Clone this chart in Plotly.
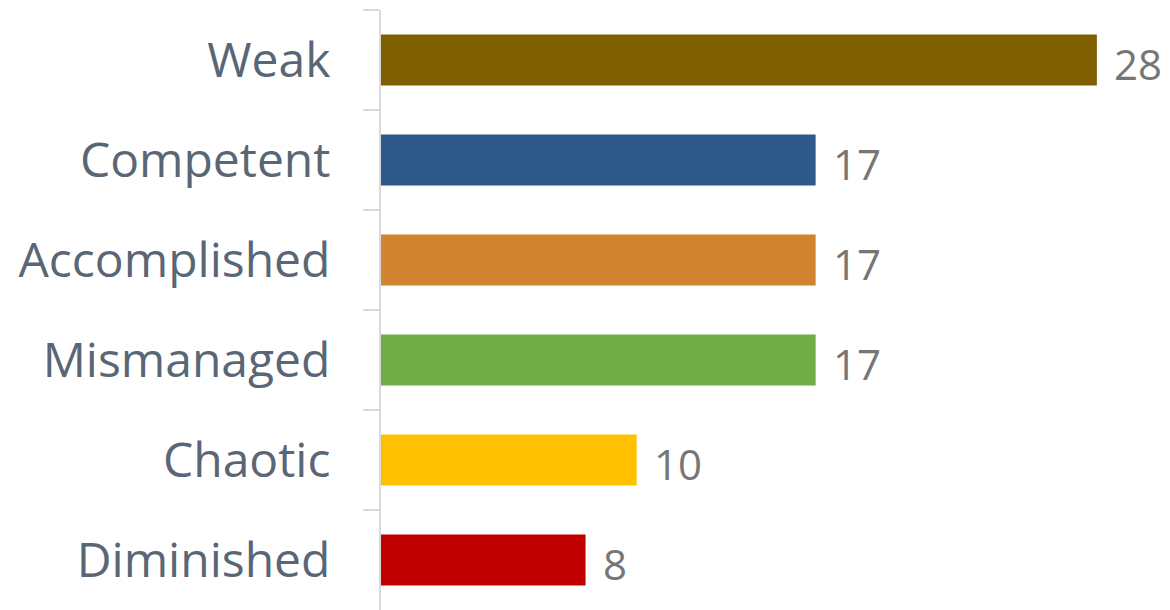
import plotly.graph_objects as go

categories = ["Weak", "Competent", "Accomplished", "Mismanaged", "Chaotic", "Diminished"]
values = [28, 17, 17, 17, 10, 8]
colors = ["#7f6000", "#2e5a8b", "#d08430", "#70ad47", "#ffc000", "#c00000"]

fig = go.Figure()
fig.add_trace(go.Bar(
    y=categories, x=values, orientation="h",
    marker=dict(color=colors, line=dict(width=0)),
    width=0.51,
    hoverinfo="skip",
))

for c, v in zip(categories, values):
    fig.add_annotation(x=v, y=c, text=str(v), showarrow=False,
                       xanchor="left", yanchor="middle", xshift=15, yshift=-3,
                       font=dict(family="Open Sans", size=42, color="#767676"))

fig.update_layout(
    width=1162, height=602,
    margin=dict(l=373, r=0, t=2, b=0),
    plot_bgcolor="white", paper_bgcolor="white",
    showlegend=False,
    xaxis=dict(range=[0, 30.86], visible=False, fixedrange=True),
    yaxis=dict(
        autorange="reversed", type="category",
        showline=True, linecolor="#d9d9d9", linewidth=2,
        ticks="outside", tickson="boundaries", ticklen=16, tickcolor="#d9d9d9", tickwidth=2,
        tickfont=dict(family="Open Sans", size=48, color="#596676"),
        ticklabelstandoff=39,
        showgrid=False, zeroline=False,
    ),
)

fig.write_html("out.html")
